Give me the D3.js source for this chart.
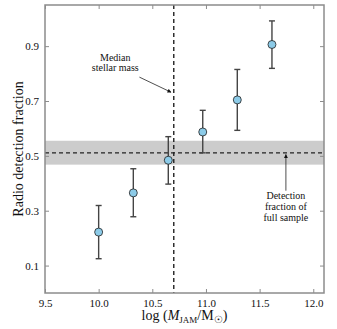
<!DOCTYPE html>
<html>
<head>
<meta charset="utf-8">
<script src="https://cdn.jsdelivr.net/npm/d3@7"></script>
<style>
  body { margin: 0; background: #fff; }
  text { font-family: "Liberation Serif", "Times New Roman", serif; }
</style>
</head>
<body>
<div id="chartContainer"></div>
<script>
// Data
var massBins = [10.0, 10.323, 10.649, 10.97, 11.292, 11.615];
var detFrac  = [0.222, 0.365, 0.484, 0.587, 0.704, 0.906];
var errLow   = [0.125, 0.278, 0.397, 0.511, 0.593, 0.819];
var errHigh  = [0.319, 0.453, 0.570, 0.666, 0.815, 0.992];
var xTicks = [9.5, 10.0, 10.5, 11.0, 11.5, 12.0];
var yTicks = [0.1, 0.3, 0.5, 0.7, 0.9];
var medianMass = 10.70;
var fullFrac = 0.511;
var fullFracBand = [0.468, 0.555];

function init() {
    var w = 337, h = 329;
    var margin = {left: 45, right: 13, top: 5, bottom: 36};

    var svg = d3.select("#chartContainer")
                .append("svg")
                .attr("width", w)
                .attr("height", h);

    var x = d3.scaleLinear().domain([9.5, 12.1]).range([margin.left, w - margin.right]);
    var y = d3.scaleLinear().domain([0, 1.05]).range([h - margin.bottom, margin.top]);

    var frame = "#8c8c8c";

    // shaded band for full sample detection fraction
    svg.append("rect")
       .attr("x", x(9.5))
       .attr("width", x(12.1) - x(9.5))
       .attr("y", y(fullFracBand[1]))
       .attr("height", y(fullFracBand[0]) - y(fullFracBand[1]))
       .attr("fill", "#cccccc");

    // dashed reference lines
    svg.append("line")
       .attr("x1", x(9.5)).attr("x2", x(12.1))
       .attr("y1", y(fullFrac)).attr("y2", y(fullFrac))
       .attr("stroke", "#222").attr("stroke-width", 1.4)
       .attr("stroke-dasharray", "4,3");
    svg.append("line")
       .attr("x1", x(medianMass)).attr("x2", x(medianMass))
       .attr("y1", y(1.05)).attr("y2", y(0))
       .attr("stroke", "#222").attr("stroke-width", 1.4)
       .attr("stroke-dasharray", "4,3");

    // axes, ticks inward on all sides
    var axB = d3.axisBottom(x).tickValues(xTicks).tickFormat(d3.format(".1f")).tickSizeInner(-4).tickSizeOuter(0).tickPadding(6);
    var axT = d3.axisTop(x).tickValues(xTicks).tickFormat("").tickSizeInner(-4).tickSizeOuter(0);
    var axL = d3.axisLeft(y).tickValues(yTicks).tickFormat(d3.format(".1f")).tickSizeInner(-4).tickSizeOuter(0).tickPadding(6);
    var axR = d3.axisRight(y).tickValues(yTicks).tickFormat("").tickSizeInner(-4).tickSizeOuter(0);

    function styleAxis(g) {
        g.attr("font-family", "Liberation Serif");
        g.select(".domain").remove();
        g.selectAll(".tick line").attr("stroke", frame);
        g.selectAll(".tick text").attr("fill", "#111").style("font-size", "11px");
    }
    svg.append("g").attr("transform", "translate(0," + y(0) + ")").call(axB).call(styleAxis);
    svg.append("g").attr("transform", "translate(0," + y(1.05) + ")").call(axT).call(styleAxis);
    svg.append("g").attr("transform", "translate(" + x(9.5) + ",0)").call(axL).call(styleAxis);
    svg.append("g").attr("transform", "translate(" + x(12.1) + ",0)").call(axR).call(styleAxis);

    svg.append("rect")
       .attr("x", x(9.5)).attr("y", y(1.05))
       .attr("width", x(12.1) - x(9.5)).attr("height", y(0) - y(1.05))
       .attr("fill", "none").attr("stroke", frame).attr("stroke-width", 1.5);

    // error bars
    var pts = massBins.map(function(m, i) {
        return {x: m, y: detFrac[i], lo: errLow[i], hi: errHigh[i]};
    });
    var eb = svg.append("g").attr("stroke", "#444").attr("stroke-width", 1.4);
    eb.selectAll("line.bar").data(pts).enter().append("line")
      .attr("x1", d => x(d.x)).attr("x2", d => x(d.x))
      .attr("y1", d => y(d.lo)).attr("y2", d => y(d.hi));
    eb.selectAll("line.capHi").data(pts).enter().append("line")
      .attr("x1", d => x(d.x) - 3).attr("x2", d => x(d.x) + 3)
      .attr("y1", d => y(d.hi)).attr("y2", d => y(d.hi));
    eb.selectAll("line.capLo").data(pts).enter().append("line")
      .attr("x1", d => x(d.x) - 3).attr("x2", d => x(d.x) + 3)
      .attr("y1", d => y(d.lo)).attr("y2", d => y(d.lo));

    svg.selectAll("circle").data(pts).enter().append("circle")
       .attr("cx", d => x(d.x)).attr("cy", d => y(d.y))
       .attr("r", 4)
       .attr("fill", "#8ccbe8")
       .attr("stroke", "#222").attr("stroke-width", 0.8);

    // annotations with arrows
    svg.append("defs").append("marker")
       .attr("id", "arrow").attr("viewBox", "0 0 10 10")
       .attr("refX", 9).attr("refY", 5)
       .attr("markerWidth", 5).attr("markerHeight", 5)
       .attr("orient", "auto")
       .append("path").attr("d", "M0,0 L10,5 L0,10 z").attr("fill", "#111");

    svg.append("line")
       .attr("x1", x(10.38)).attr("y1", y(0.787))
       .attr("x2", x(10.675)).attr("y2", y(0.732))
       .attr("stroke", "#222").attr("stroke-width", 0.8)
       .attr("marker-end", "url(#arrow)");
    svg.append("line")
       .attr("x1", x(11.745)).attr("y1", y(0.373))
       .attr("x2", x(11.745)).attr("y2", y(0.505))
       .attr("stroke", "#222").attr("stroke-width", 0.8)
       .attr("marker-end", "url(#arrow)");

    var ann = svg.append("g").style("font-size", "10px").attr("text-anchor", "middle").attr("fill", "#111");
    ann.append("text").attr("x", x(10.155)).attr("y", 61).text("Median");
    ann.append("text").attr("x", x(10.155)).attr("y", 71).text("stellar mass");
    ann.append("text").attr("x", x(11.745)).attr("y", 199).text("Detection");
    ann.append("text").attr("x", x(11.745)).attr("y", 210).text("fraction of");
    ann.append("text").attr("x", x(11.745)).attr("y", 221).text("full sample");

    // axis titles
    var xl = svg.append("text")
       .attr("x", (x(9.5) + x(12.1)) / 2).attr("y", 320)
       .attr("text-anchor", "middle").style("font-size", "14px").attr("fill", "#111");
    xl.append("tspan").text("log (");
    xl.append("tspan").style("font-style", "italic").text("M");
    xl.append("tspan").attr("dy", 3).style("font-size", "9px").text("JAM");
    xl.append("tspan").attr("dy", -3).text("/M");
    xl.append("tspan").attr("dy", 3).style("font-size", "10px").text("\u2609");
    xl.append("tspan").attr("dy", -3).text(")");

    svg.append("text")
       .attr("transform", "translate(23," + (y(0) + y(1.05)) / 2 + ") rotate(-90)")
       .attr("text-anchor", "middle").style("font-size", "14px").attr("fill", "#111")
       .text("Radio detection fraction");
}

window.onload = init;
</script>
</body>
</html>
